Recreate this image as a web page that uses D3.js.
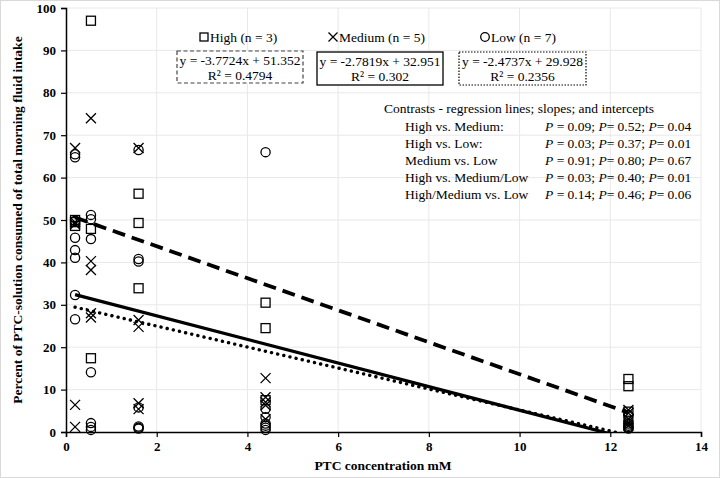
<!DOCTYPE html>
<html><head><meta charset="utf-8">
<script src="https://cdn.jsdelivr.net/npm/d3@7"></script>
<style>
body{margin:0;background:#fff;}
svg text{font-family:"Liberation Serif","Times New Roman",serif;}
</style></head>
<body><svg id="c" width="720" height="478"></svg>
<script>
// ---- data ----
const highPts = [[0.2,50],[0.2,49.5],[0.2,48.6],[0.55,97],[0.55,47.9],[0.55,17.4],[1.6,56.2],[1.6,49.3],[1.6,33.9],[4.4,30.5],[4.4,24.5],[4.4,7.5],[12.4,12.5],[12.4,10.8],[12.4,4.8]];
const medPts = [[0.2,67],[0.2,49.5],[0.2,49],[0.2,6.4],[0.2,1.2],[0.55,74],[0.55,40.3],[0.55,38.2],[0.55,28],[0.55,27],[1.6,67],[1.6,26.4],[1.6,24.8],[1.6,6.8],[1.6,5.4],[4.4,12.7],[4.4,8.2],[4.4,7],[4.4,6.3],[4.4,3],[12.4,5.2],[12.4,4.5],[12.4,3],[12.4,2],[12.4,1.5]];
const lowPts = [[0.2,65.5],[0.2,64.8],[0.2,49.8],[0.2,45.8],[0.2,42.9],[0.2,41.1],[0.2,32.3],[0.2,26.6],[0.55,51.2],[0.55,50.2],[0.55,45.5],[0.55,14.1],[0.55,2.1],[0.55,1.2],[0.55,0.5],[1.6,66.5],[1.6,40.8],[1.6,40.2],[1.6,5.8],[1.6,1.3],[1.6,1.0],[1.6,0.8],[4.4,66],[4.4,5.5],[4.4,3.5],[4.4,2],[4.4,1.5],[4.4,1],[4.4,0.5],[12.4,4],[12.4,2.5],[12.4,2],[12.4,1.5],[12.4,1.2],[12.4,1],[12.4,0.8]];
const fits = [{slope:-3.7724,icpt:51.352,eq:"y = -3.7724x + 51.352",r2:"R² = 0.4794",style:"dash"},
              {slope:-2.7819,icpt:32.951,eq:"y = -2.7819x + 32.951",r2:"R² = 0.302",style:"solid"},
              {slope:-2.4737,icpt:29.928,eq:"y = -2.4737x + 29.928",r2:"R² = 0.2356",style:"dot"}];
const xRange = [0.2, 12.4];
const xTicks = [0,2,4,6,8,10,12,14];
const yTicks = [0,10,20,30,40,50,60,70,80,90,100];
const legendLabels = ["High (n = 3)","Medium (n = 5)","Low (n = 7)"];
const contrastTitle = "Contrasts - regression lines; slopes; and intercepts";
const contrastRows = ["High vs. Medium:","High vs. Low:","Medium vs. Low","High vs. Medium/Low","High/Medium vs. Low"];
const contrastP = [["0.09","0.52","0.04"],["0.03","0.37","0.01"],["0.91","0.80","0.67"],["0.03","0.40","0.01"],["0.14","0.46","0.06"]];
const xTitle = "PTC concentration mM";
const yTitle = "Percent of PTC-solution consumed of total morning fluid intake";

// ---- layout ----
const svg = d3.select("#c");
const L=66,R=701,T=8,B=432;
const x = d3.scaleLinear().domain([0,14]).range([L,R]);
const y = d3.scaleLinear().domain([0,100]).range([B,T]);

svg.append("rect").attr("x",0.5).attr("y",0.5).attr("width",719).attr("height",477)
  .attr("fill","#fff").attr("stroke","#d9d9d9");

// grid
const g = svg.append("g");
g.selectAll(".vg").data(xTicks.slice(1)).enter().append("line")
  .attr("x1",d=>x(d)).attr("x2",d=>x(d)).attr("y1",T).attr("y2",B)
  .attr("stroke","#e8e8e8").attr("stroke-width",1);
g.selectAll(".hg").data(yTicks.slice(1)).enter().append("line")
  .attr("x1",L).attr("x2",R).attr("y1",d=>y(d)).attr("y2",d=>y(d))
  .attr("stroke","#e8e8e8").attr("stroke-width",1);

// axes
const xa = svg.append("g").attr("transform",`translate(0,${B})`)
  .call(d3.axisBottom(x).tickValues(xTicks).tickSize(5).tickPadding(5));
const ya = svg.append("g").attr("transform",`translate(${L},0)`)
  .call(d3.axisLeft(y).tickValues(yTicks).tickSize(5).tickPadding(5));
[xa,ya].forEach(a=>{
  a.select(".domain").attr("stroke","#000").attr("stroke-width",1.5);
  a.selectAll(".tick line").attr("stroke","#000").attr("stroke-width",1.2);
  a.selectAll("text").attr("font-family","Liberation Serif, serif").attr("font-weight","bold")
    .attr("font-size",13).attr("fill","#000");
});

// clip
svg.append("clipPath").attr("id","pc").append("rect").attr("x",L).attr("y",T).attr("width",R-L).attr("height",B-T);

// points
const pg = svg.append("g");
const s=4.5;
pg.selectAll(".hi").data(highPts).enter().append("rect")
  .attr("x",d=>x(d[0])-s).attr("y",d=>y(d[1])-s).attr("width",2*s).attr("height",2*s)
  .attr("fill","none").attr("stroke","#000").attr("stroke-width",1.3);
pg.selectAll(".md").data(medPts).enter().append("path")
  .attr("d",d=>{const cx=x(d[0]),cy=y(d[1]),k=5;return `M${cx-k},${cy-k}L${cx+k},${cy+k}M${cx-k},${cy+k}L${cx+k},${cy-k}`;})
  .attr("fill","none").attr("stroke","#000").attr("stroke-width",1.3);
pg.selectAll(".lo").data(lowPts).enter().append("circle")
  .attr("cx",d=>x(d[0])).attr("cy",d=>y(d[1])).attr("r",4.6)
  .attr("fill","none").attr("stroke","#000").attr("stroke-width",1.3);

// regression lines
const lg = svg.append("g").attr("clip-path","url(#pc)");
fits.forEach(f=>{
  const p = lg.append("line")
    .attr("x1",x(xRange[0])).attr("y1",y(f.icpt+f.slope*xRange[0]))
    .attr("x2",x(xRange[1])).attr("y2",y(f.icpt+f.slope*xRange[1]))
    .attr("stroke","#000");
  if(f.style==="dash") p.attr("stroke-width",3.8).attr("stroke-dasharray","13,7");
  else if(f.style==="solid") p.attr("stroke-width",3.2);
  else p.attr("stroke-width",3.4).attr("stroke-dasharray","0.1,6.2").attr("stroke-linecap","round");
});

// legend
const legX=[204,333,485], legY=37;
legendLabels.forEach((t,i)=>{
  const cx=legX[i];
  if(i===0) svg.append("rect").attr("x",cx-4).attr("y",legY-4).attr("width",8).attr("height",8).attr("fill","none").attr("stroke","#000").attr("stroke-width",1.3);
  else if(i===1) svg.append("path").attr("d",`M${cx-4.5},${legY-4.5}L${cx+4.5},${legY+4.5}M${cx-4.5},${legY+4.5}L${cx+4.5},${legY-4.5}`).attr("stroke","#000").attr("stroke-width",1.3);
  else svg.append("circle").attr("cx",cx).attr("cy",legY).attr("r",4.3).attr("fill","none").attr("stroke","#000").attr("stroke-width",1.3);
  svg.append("text").attr("x",cx+6).attr("y",legY+4.5).attr("font-size",13.5).text(t);
});

// equation boxes
const boxes=[{x:177,y:51,w:126,h:32,da:"4,2.5"},{x:317,y:52,w:126,h:33,da:null},{x:459,y:52,w:127,h:33,da:"1.5,1.5"}];
fits.forEach((f,i)=>{
  const b=boxes[i];
  const r=svg.append("rect").attr("x",b.x).attr("y",b.y).attr("width",b.w).attr("height",b.h)
    .attr("fill","#fff").attr("stroke",i===0?"#444":"#000").attr("stroke-width",i===1?1.3:1.2);
  if(b.da) r.attr("stroke-dasharray",b.da);
  svg.append("text").attr("x",b.x+b.w/2).attr("y",b.y+14).attr("text-anchor","middle").attr("font-size",13.5).text(f.eq);
  svg.append("text").attr("x",b.x+b.w/2).attr("y",b.y+29).attr("text-anchor","middle").attr("font-size",13.5).text(f.r2);
});

// contrasts
svg.append("text").attr("x",384).attr("y",113).attr("font-size",13.5).text(contrastTitle);
const rowY=[131,148,165,182,199];
contrastRows.forEach((t,i)=>{
  svg.append("text").attr("x",405).attr("y",rowY[i]).attr("font-size",13.5).text(t);
  const tx=svg.append("text").attr("x",545).attr("y",rowY[i]).attr("font-size",13.5);
  const p=contrastP[i];
  tx.append("tspan").attr("font-style","italic").text("P");
  tx.append("tspan").text(" = "+p[0]+"; ");
  tx.append("tspan").attr("font-style","italic").text("P");
  tx.append("tspan").text("= "+p[1]+"; ");
  tx.append("tspan").attr("font-style","italic").text("P");
  tx.append("tspan").text("= "+p[2]);
});

// axis titles
svg.append("text").attr("x",383).attr("y",470).attr("text-anchor","middle").attr("font-weight","bold").attr("font-size",13.5).text(xTitle);
svg.append("text").attr("transform","translate(22,220) rotate(-90)").attr("text-anchor","middle").attr("font-weight","bold").attr("font-size",13.5).text(yTitle);
</script></body></html>
